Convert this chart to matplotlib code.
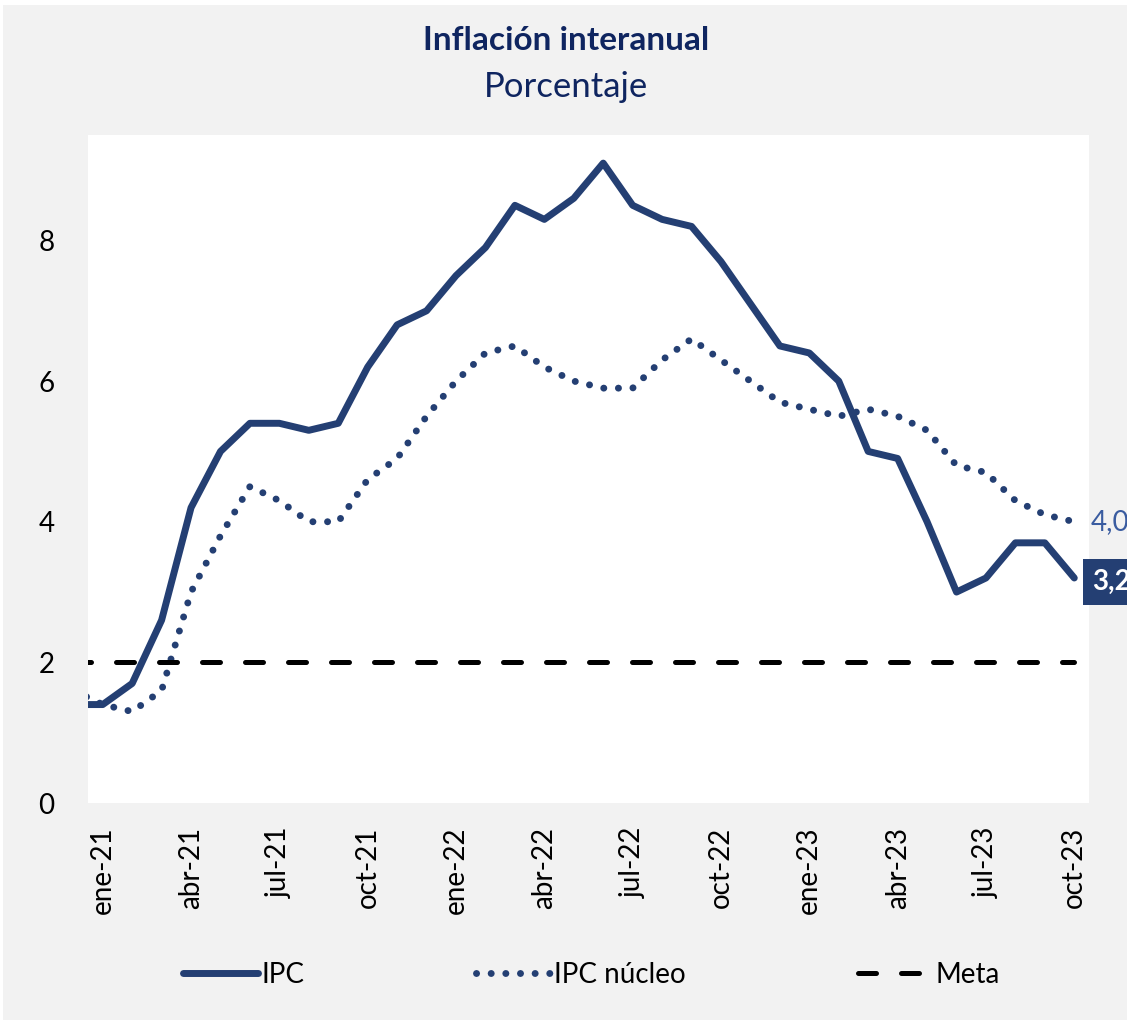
import matplotlib
matplotlib.use("Agg")
import matplotlib.pyplot as plt
from matplotlib.patches import Rectangle
import numpy as np

# datos: dic-20 a oct-23 (dic-20 queda recortado a la izquierda)
meses = ['dic-20',
         'ene-21', 'feb-21', 'mar-21', 'abr-21', 'may-21', 'jun-21', 'jul-21', 'ago-21', 'sep-21', 'oct-21', 'nov-21', 'dic-21',
         'ene-22', 'feb-22', 'mar-22', 'abr-22', 'may-22', 'jun-22', 'jul-22', 'ago-22', 'sep-22', 'oct-22', 'nov-22', 'dic-22',
         'ene-23', 'feb-23', 'mar-23', 'abr-23', 'may-23', 'jun-23', 'jul-23', 'ago-23', 'sep-23', 'oct-23']
ipc = [1.4,
       1.4, 1.7, 2.6, 4.2, 5.0, 5.4, 5.4, 5.3, 5.4, 6.2, 6.8, 7.0,
       7.5, 7.9, 8.5, 8.3, 8.6, 9.1, 8.5, 8.3, 8.2, 7.7, 7.1, 6.5,
       6.4, 6.0, 5.0, 4.9, 4.0, 3.0, 3.2, 3.7, 3.7, 3.2]
nucleo = [1.6,
          1.4, 1.3, 1.6, 3.0, 3.8, 4.5, 4.3, 4.0, 4.0, 4.6, 4.9, 5.5,
          6.0, 6.4, 6.5, 6.2, 6.0, 5.9, 5.9, 6.3, 6.6, 6.3, 6.0, 5.7,
          5.6, 5.5, 5.6, 5.5, 5.3, 4.8, 4.7, 4.3, 4.1, 4.0]
meta = [2.0] * len(meses)
etiquetas = ['ene-21', 'abr-21', 'jul-21', 'oct-21', 'ene-22', 'abr-22',
             'jul-22', 'oct-22', 'ene-23', 'abr-23', 'jul-23', 'oct-23']

AZUL = '#243f73'
AZUL_TXT = '#3a5ca0'
TITULO = '#0f2560'

plt.rcParams['font.family'] = ['Lato', 'DejaVu Sans']

fig = plt.figure(figsize=(11.27, 10.23), dpi=100)
fig.patch.set_facecolor('white')
fig.add_artist(Rectangle((3 / 1127, 0.003), 1, 1 - 5 / 1023 - 0.003, transform=fig.transFigure,
                         facecolor='#f2f2f2', edgecolor='none', zorder=-10))

ax = fig.add_axes([88 / 1127, 1 - 803 / 1023, (1089 - 88) / 1127, (803 - 135) / 1023])
ax.set_facecolor('white')

x = np.arange(len(meses))
l1, = ax.plot(x, ipc, color=AZUL, lw=5, solid_capstyle='round', solid_joinstyle='round', label='IPC')
l2, = ax.plot(x, nucleo, color=AZUL, lw=5, linestyle=(0, (0.01, 2.1)),
              dash_capstyle='round', label='IPC núcleo')
l3, = ax.plot(x, meta, color='black', lw=3.6, linestyle=(0, (3.6, 5.0)),
              dash_capstyle='round', label='Meta')

ax.set_xlim(0.5, len(meses) - 0.5)
ax.set_ylim(0, 9.5)
ax.set_yticks([0, 2, 4, 6, 8])
ax.set_yticklabels(['0', '2', '4', '6', '8'])
pos = [meses.index(e) for e in etiquetas]
ax.set_xticks(pos)
ax.set_xticklabels(etiquetas, rotation=90)
ax.tick_params(axis='both', length=0, labelsize=20, colors='black')
ax.tick_params(axis='y', pad=24)
ax.tick_params(axis='x', pad=17)
for s in ax.spines.values():
    s.set_visible(False)

# etiquetas del ultimo dato
ult = len(meses) - 1
ax.annotate('4,0', (ult, nucleo[-1]), xytext=(12, 0), textcoords='offset points',
            color=AZUL_TXT, fontsize=20, va='center', ha='left', annotation_clip=False)
ax.annotate('3,2', (ult, ipc[-1]), xytext=(13, -3), textcoords='offset points',
            color='white', fontsize=20, fontweight='bold', va='center', ha='left',
            annotation_clip=False,
            bbox=dict(boxstyle='square,pad=0.35', facecolor=AZUL, edgecolor='none'))

fig.text(0.502, 1 - 40 / 1023, 'Inflación interanual', ha='center', va='center',
         fontsize=24, fontweight='bold', color=TITULO)
fig.text(0.502, 1 - 87 / 1023, 'Porcentaje', ha='center', va='center',
         fontsize=25, color=TITULO)

fig.legend(handles=[l1, l2, l3], loc='center', bbox_to_anchor=(0.525, 1 - 975 / 1023),
           ncol=3, frameon=False, fontsize=20, handlelength=2.7, handletextpad=0.1,
           columnspacing=6.2)

fig.savefig('out.png', dpi=100, facecolor=fig.get_facecolor())
